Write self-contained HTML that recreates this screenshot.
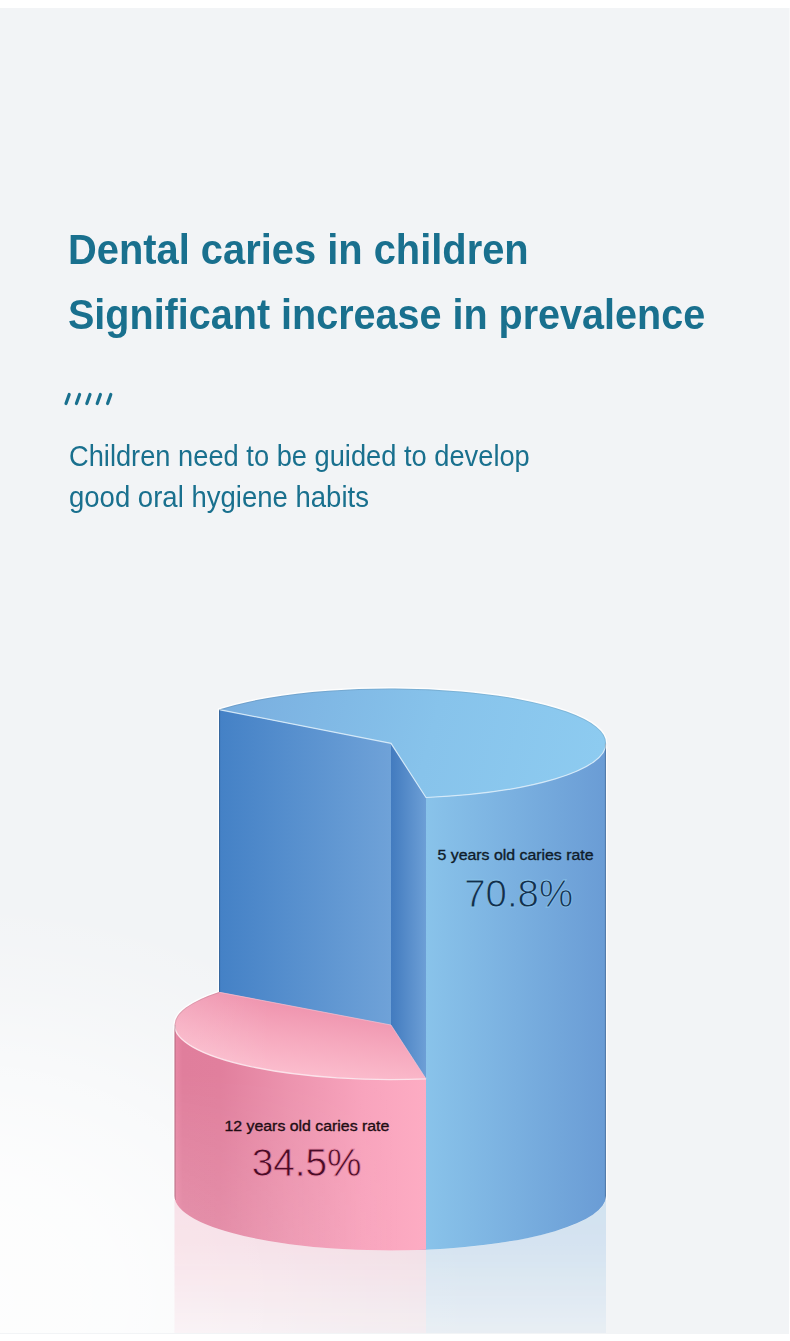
<!DOCTYPE html>
<html lang="en">
<head>
<meta charset="utf-8">
<title>Dental caries in children</title>
<style>
  html, body { margin: 0; padding: 0; }
  body { width: 790px; height: 1341px; overflow: hidden; background: #ffffff; font-family: "Liberation Sans", sans-serif; }
  .page { position: absolute; left: 0; top: 0; width: 790px; height: 1341px; overflow: hidden; background: #ffffff; }
  .bg { position: absolute; left: 0; top: 8px; width: 790px; height: 1325.5px; background: #f2f4f6; }
  .glow { position: absolute; left: 0; top: 0; width: 790px; height: 1325px;
    background: radial-gradient(ellipse 520px 400px at -40px 1290px, rgba(255,255,255,0.85) 0%, rgba(255,255,255,0.8) 30%, rgba(255,255,255,0.55) 55%, rgba(255,255,255,0.2) 80%, rgba(255,255,255,0) 100%); }
  .redge { position: absolute; left: 788.6px; top: 8px; width: 1.4px; height: 1325.5px; background: linear-gradient(180deg, rgba(255,255,255,0.45) 0%, rgba(255,255,255,0.45) 90%, rgba(255,255,255,0.95) 98%, #fff 100%); }
  .t { position: absolute; white-space: nowrap; transform-origin: 0 0; line-height: 1; }
  .h1 { font-weight: bold; font-size: 42.7px; color: #19708e; }
  .sub { font-size: 29.6px; color: #19708e; }
  svg { position: absolute; left: 0; top: 0; }
</style>
</head>
<body>
<div class="page">
  <div class="bg"><div class="glow"></div></div>
  <div class="redge"></div>

  <div class="t h1" id="h1a" style="left:67.8px; top:228.0px; transform:scaleX(0.9336);">Dental caries in children</div>
  <div class="t h1" id="h1b" style="left:67.6px; top:292.5px; transform:scaleX(0.926);">Significant increase in prevalence</div>
  <div class="t sub" id="s1" style="left:69px; top:440.6px; transform:scaleX(0.9212);">Children need to be guided to develop</div>
  <div class="t sub" id="s2" style="left:68.6px; top:481.7px; transform:scaleX(0.93);">good oral hygiene habits</div>

  <svg width="790" height="1341" viewBox="0 0 790 1341">
    <defs>
      <linearGradient id="gLeftFace" x1="219" y1="0" x2="391" y2="0" gradientUnits="userSpaceOnUse">
        <stop offset="0" stop-color="#4481c6"/>
        <stop offset="1" stop-color="#6fa2d8"/>
      </linearGradient>
      <linearGradient id="gCutFace" x1="391" y1="0" x2="426" y2="0" gradientUnits="userSpaceOnUse">
        <stop offset="0" stop-color="#427bbf"/>
        <stop offset="1" stop-color="#6d9fd6"/>
      </linearGradient>
      <linearGradient id="gFront" x1="426" y1="0" x2="606" y2="0" gradientUnits="userSpaceOnUse">
        <stop offset="0" stop-color="#89c3ea"/>
        <stop offset="1" stop-color="#6a9cd5"/>
      </linearGradient>
      <linearGradient id="gTop" x1="225" y1="700" x2="590" y2="800" gradientUnits="userSpaceOnUse">
        <stop offset="0" stop-color="#79aedf"/>
        <stop offset="0.55" stop-color="#87c3eb"/>
        <stop offset="1" stop-color="#8dcbf0"/>
      </linearGradient>
      <linearGradient id="gPinkFront" x1="175" y1="0" x2="426" y2="0" gradientUnits="userSpaceOnUse">
        <stop offset="0" stop-color="#e888a5"/>
        <stop offset="0.03" stop-color="#e07e9c"/>
        <stop offset="0.18" stop-color="#e17f9d"/>
        <stop offset="0.45" stop-color="#ec93ae"/>
        <stop offset="0.75" stop-color="#f8a4bd"/>
        <stop offset="1" stop-color="#fdacc3"/>
      </linearGradient>
      <linearGradient id="gPinkFrontV" x1="0" y1="1070" x2="0" y2="1250" gradientUnits="userSpaceOnUse">
        <stop offset="0" stop-color="#fff" stop-opacity="0"/>
        <stop offset="1" stop-color="#fff" stop-opacity="1"/>
      </linearGradient>
      <linearGradient id="gPinkFrontH" x1="175" y1="0" x2="400" y2="0" gradientUnits="userSpaceOnUse">
        <stop offset="0" stop-color="#fff" stop-opacity="0.17"/>
        <stop offset="1" stop-color="#fff" stop-opacity="0"/>
      </linearGradient>
      <mask id="mPinkV" maskUnits="userSpaceOnUse" x="170" y="1020" width="260" height="235">
        <rect x="170" y="1020" width="260" height="235" fill="url(#gPinkFrontV)"/>
      </mask>
      <linearGradient id="gPinkTopL" x1="175" y1="0" x2="270" y2="0" gradientUnits="userSpaceOnUse">
        <stop offset="0" stop-color="#fff" stop-opacity="0.13"/>
        <stop offset="1" stop-color="#fff" stop-opacity="0"/>
      </linearGradient>
      <linearGradient id="gPinkTop" x1="324" y1="1002" x2="314" y2="1081" gradientUnits="userSpaceOnUse">
        <stop offset="0" stop-color="#ee91ac"/>
        <stop offset="0.5" stop-color="#f6a9be"/>
        <stop offset="1" stop-color="#fcbfcf"/>
      </linearGradient>
      <linearGradient id="gFade" x1="0" y1="1196" x2="0" y2="1333" gradientUnits="userSpaceOnUse">
        <stop offset="0" stop-color="#fff" stop-opacity="0.27"/>
        <stop offset="0.4" stop-color="#fff" stop-opacity="0.23"/>
        <stop offset="1" stop-color="#fff" stop-opacity="0.08"/>
      </linearGradient>
      <clipPath id="cSil">
        <path d="M219,709.6 A216,54.5 0 0 1 606,743.5 L606,1196 A216,54.5 0 0 1 426,1249.7 A216,54.5 0 0 1 174.5,1196 L174.5,1025 A216,54.5 0 0 1 219,991.9 Z"/>
      </clipPath>
      <mask id="mFade" maskUnits="userSpaceOnUse" x="0" y="1190" width="790" height="151">
        <rect x="0" y="1190" width="790" height="151" fill="url(#gFade)"/>
      </mask>
    </defs>

    <!-- reflections -->
    <g mask="url(#mFade)">
      <path d="M174.5,1196 A216,54.5 0 0 0 426,1249.7 L426,1333 L174.5,1333 Z" fill="#f29bb4"/>
      <path d="M426,1249.7 A216,54.5 0 0 0 606,1199 L606,1333 L426,1333 Z" fill="#79b0e0"/>
    </g>

    <!-- sharpening halo (outer, light) -->
    <path d="M174.5,1200 L174.5,1025 A216,54.5 0 0 1 219,991.9 L219,709.6 A216,54.5 0 0 1 606,743.5 L606,1200" fill="none" stroke="#ffffff" stroke-width="2.6" stroke-opacity="0.8"/>

    <!-- blue: left flat face -->
    <path d="M219,709.6 L391,743.3 L391,1100 L219,1100 Z" fill="url(#gLeftFace)"/>
    <!-- blue: narrow cut face -->
    <path d="M391,743.3 L426,797.5 L426,1249.7 L391,1249.7 Z" fill="url(#gCutFace)"/>
    <!-- blue: curved front -->
    <path d="M426,797.5 A216,54.5 0 0 0 606,743.5 L606,1196 A216,54.5 0 0 1 426,1249.7 Z" fill="url(#gFront)"/>
    <!-- blue: top -->
    <path d="M391,743.3 L219,709.6 A216,54.5 0 0 1 606,743.5 A216,54.5 0 0 1 426,797.5 Z" fill="url(#gTop)"/>
    <path d="M219,709.6 L391,743.3 L426,797.5 A216,54.5 0 0 0 606,743.5" fill="none" stroke="#d9ecfa" stroke-width="1.2" stroke-opacity="0.9"/>

    <!-- pink: front -->
    <path d="M174.5,1025 A216,54.5 0 0 0 426,1078.8 L426,1249.7 A216,54.5 0 0 1 174.5,1196 Z" fill="url(#gPinkFront)"/>
    <path d="M174.5,1025 A216,54.5 0 0 0 426,1078.8 L426,1249.7 A216,54.5 0 0 1 174.5,1196 Z" fill="url(#gPinkFrontH)" mask="url(#mPinkV)"/>
    <!-- pink: top -->
    <path d="M391,1025 L219,991.9 A216,54.5 0 0 0 174.5,1025 A216,54.5 0 0 0 426,1078.8 Z" fill="url(#gPinkTop)"/>
    <path d="M391,1025 L219,991.9 A216,54.5 0 0 0 174.5,1025 A216,54.5 0 0 0 426,1078.8 Z" fill="url(#gPinkTopL)"/>
    <path d="M174.5,1025 A216,54.5 0 0 0 426,1078.8" fill="none" stroke="#fde6ec" stroke-width="1.3" stroke-opacity="0.95"/>
    <path d="M219.5,992.3 L391,1025 L426,1078.8" fill="none" stroke="#fbc4d2" stroke-width="1" stroke-opacity="0.65"/>

    <!-- sharpening halo (inner, dark) -->
    <g clip-path="url(#cSil)">
      <path d="M174.5,1200 L174.5,1025 M219,991.9 L219,709.6 M606,743.5 L606,1200" fill="none" stroke="#000000" stroke-width="2.2" stroke-opacity="0.2"/>
      <path d="M174.5,1025 A216,54.5 0 0 1 219,991.9 M219,709.6 A216,54.5 0 0 1 606,743.5" fill="none" stroke="#000000" stroke-width="2.2" stroke-opacity="0.09"/>
    </g>

    <!-- slashes -->
    <g stroke="#19708e" stroke-width="3.2" stroke-linecap="round">
      <line x1="69.2" y1="394.5" x2="66" y2="403.5"/>
      <line x1="79.6" y1="394.5" x2="76.4" y2="403.5"/>
      <line x1="90" y1="394.5" x2="86.8" y2="403.5"/>
      <line x1="100.4" y1="394.5" x2="97.2" y2="403.5"/>
      <line x1="110.8" y1="394.5" x2="107.6" y2="403.5"/>
    </g>
    <!-- labels -->
    <g font-family="'Liberation Sans', sans-serif">
      <text id="l1" transform="translate(437.5,859.6) scale(1.11,1)" font-size="14.3" fill="#0f1c2a" stroke="#0f1c2a" stroke-width="0.35">5 years old caries rate</text>
      <text id="v1" transform="translate(464.2,906.8) scale(1.01,1)" font-size="38" fill="#142f49" stroke="url(#gFront)" stroke-width="0.8">70.8%</text>
      <text id="l2" transform="translate(224.5,1130.7) scale(1.11,1)" font-size="14.3" fill="#1f0d14" stroke="#1f0d14" stroke-width="0.35">12 years old caries rate</text>
      <text id="v2" transform="translate(251.7,1176) scale(1.02,1)" font-size="38" fill="#480c27" stroke="url(#gPinkFront)" stroke-width="0.8">34.5%</text>
    </g>
  </svg>

</div>
</body>
</html>
